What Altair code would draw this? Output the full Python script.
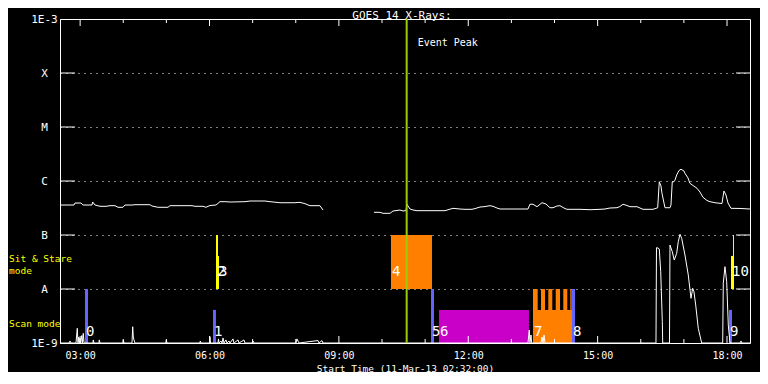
import json
import altair as alt
import pandas as pd

MONO = "DejaVu Sans Mono"
W, H = 690, 324

# ---- axes ----
x_domain = [2.5333, 18.5333]          # 02:32 .. 18:32 (hours of 11-Mar-13)
y_domain = [1e-9, 1e-3]
x_tick_hours = [3, 6, 9, 12, 15, 18]
x_tick_labels = ["03:00", "06:00", "09:00", "12:00", "15:00", "18:00"]
x_minor_hours = [4, 5, 7, 8, 10, 11, 13, 14, 16, 17]
y_tick_values = [1e-9, 1e-8, 1e-7, 1e-6, 1e-5, 1e-4, 1e-3]
y_tick_labels = ["1E-9", "A", "B", "C", "M", "X", "1E-3"]
y_inner_ticks = [1e-8, 1e-7, 1e-6, 1e-5, 1e-4]

# ---- GOES long channel (1-8 A), two segments (data gap) ----
long1_t = [2.533, 2.858, 2.881, 3.020, 3.067, 3.275, 3.291, 3.345, 3.461, 3.600, 3.693, 3.808,
           3.878, 3.994, 4.040, 4.203, 4.272, 4.620, 4.666, 4.805, 5.037, 5.084, 5.594, 5.663,
           5.849, 5.918, 6.011, 6.150, 6.243, 6.359, 6.475, 6.823, 6.939, 7.287, 7.402, 7.634,
           7.982, 8.098, 8.214, 8.330, 8.562, 8.632]
long1_f = [3.59e-7, 3.59e-7, 3.91e-7, 3.91e-7, 3.59e-7, 3.59e-7, 4.08e-7, 3.59e-7, 3.40e-7, 3.40e-7,
           3.49e-7, 3.49e-7, 3.26e-7, 3.26e-7, 3.59e-7, 3.59e-7, 3.64e-7, 3.64e-7, 3.44e-7, 3.26e-7,
           3.26e-7, 3.49e-7, 3.49e-7, 3.40e-7, 3.40e-7, 3.26e-7, 3.52e-7, 3.59e-7, 4.14e-7, 4.14e-7,
           4.08e-7, 4.14e-7, 4.26e-7, 4.26e-7, 4.14e-7, 3.96e-7, 3.96e-7, 4.03e-7, 3.80e-7, 3.49e-7,
           3.49e-7, 2.90e-7]
long2_t = [9.814, 9.953, 10.023, 10.185, 10.255, 10.417, 10.487, 10.556, 10.579, 10.603, 10.649,
           10.719, 10.811, 11.460, 11.646, 11.808, 11.924, 12.087, 12.179, 12.272, 12.365, 12.504,
           12.573, 12.666, 12.736, 13.199, 13.385, 13.431, 13.501, 13.594, 13.710, 13.802, 13.895,
           13.965, 14.057, 14.127, 14.220, 14.289, 14.591, 14.823, 15.055, 15.171, 15.286, 15.449,
           15.518, 15.588, 15.681, 15.750, 15.913, 16.052, 16.284, 16.393, 16.430, 16.469, 16.492,
           16.539, 16.562, 16.678, 16.701, 16.731, 16.770, 16.794, 16.833, 16.886, 16.933, 17.002,
           17.025, 17.095, 17.141, 17.211, 17.304, 17.373, 17.443, 17.536, 17.605, 17.721, 17.837,
           17.884, 17.907, 17.930, 17.976, 18.023, 18.092, 18.301, 18.533]
long2_f = [2.63e-7, 2.63e-7, 2.52e-7, 2.52e-7, 2.78e-7, 2.90e-7, 2.78e-7, 2.84e-7, 3.71e-7, 3.44e-7,
           3.03e-7, 2.90e-7, 2.82e-7, 2.82e-7, 3.12e-7, 3.03e-7, 2.99e-7, 2.99e-7, 3.12e-7, 3.30e-7,
           3.34e-7, 3.49e-7, 3.40e-7, 3.16e-7, 3.03e-7, 3.03e-7, 3.03e-7, 3.71e-7, 3.71e-7, 3.34e-7,
           3.96e-7, 3.75e-7, 3.20e-7, 3.20e-7, 3.44e-7, 3.49e-7, 3.16e-7, 2.99e-7, 2.99e-7, 2.94e-7,
           2.99e-7, 3.03e-7, 3.16e-7, 3.20e-7, 3.37e-7, 3.71e-7, 3.52e-7, 3.34e-7, 3.34e-7, 2.99e-7,
           2.99e-7, 3.20e-7, 9.7e-7, 8.08e-7, 5.92e-7, 3.91e-7, 3.20e-7, 3.20e-7, 3.59e-7, 9.7e-7,
           9.7e-7, 1.04e-6, 1.29e-6, 1.56e-6, 1.65e-6, 1.53e-6, 1.39e-6, 1.14e-6, 9.06e-7, 8.26e-7,
           7.33e-7, 6.25e-7, 4.99e-7, 4.35e-7, 4.14e-7, 3.96e-7, 3.86e-7, 3.83e-7, 5.06e-7, 6.53e-7,
           5.51e-7, 3.91e-7, 3.12e-7, 3.10e-7, 3.03e-7]

# ---- GOES short channel (0.5-4 A) ----
short_t = [2.533, 2.742, 2.765, 2.788, 2.904, 2.934, 2.951, 2.967, 2.981, 2.997, 3.009, 3.036,
           3.050, 3.073, 3.090, 3.298, 3.305, 3.321, 3.437, 3.444, 3.461, 3.994, 4.001, 4.017,
           4.203, 4.219, 4.233, 4.249, 4.272, 4.991, 4.998, 5.014, 5.779, 5.786, 5.802, 6.000,
           6.011, 6.023, 6.197, 6.208, 6.220, 6.266, 6.290, 6.313, 6.336, 6.382, 6.405, 6.452,
           6.475, 6.545, 6.568, 6.661, 6.684, 6.800, 6.823, 6.985, 7.008, 7.032, 8.005, 8.028,
           8.075, 8.516, 8.539, 8.608, 8.632, 13.385, 13.415, 13.431, 13.455, 13.471, 13.687,
           13.710, 13.733, 13.757, 13.780, 16.330, 16.353, 16.365, 16.400, 16.430, 16.463, 16.500,
           16.509, 16.666, 16.678, 16.731, 16.777, 16.833, 16.870, 16.910, 16.949, 17.025, 17.102,
           17.165, 17.204, 17.234, 17.274, 17.334, 17.413, 17.900, 17.914, 17.953, 17.993, 18.030,
           18.069, 18.301, 18.324, 18.347, 18.533]
short_f = [1e-9, 1e-9, 1.09e-9, 1e-9, 1e-9, 1.87e-9, 1e-9, 1.29e-9, 1e-9, 1.24e-9, 1e-9, 1.37e-9,
           1e-9, 1.51e-9, 1e-9, 1e-9, 1.14e-9, 1e-9, 1e-9, 1.14e-9, 1e-9, 1e-9, 1.14e-9, 1e-9,
           1e-9, 2.0e-9, 1.29e-9, 1.14e-9, 1e-9, 1e-9, 1.14e-9, 1e-9, 1e-9, 1.09e-9, 1e-9, 1e-9,
           1.31e-9, 1e-9, 1e-9, 1.19e-9, 1e-9, 1.09e-9, 1e-9, 1.24e-9, 1e-9, 1.14e-9, 1e-9, 1.09e-9,
           1e-9, 1.19e-9, 1e-9, 1.14e-9, 1e-9, 1.14e-9, 1e-9, 1e-9, 1.09e-9, 1e-9, 1e-9, 1.19e-9,
           1e-9, 1.11e-9, 1e-9, 1.11e-9, 1e-9, 1e-9, 1.74e-9, 1e-9, 1.41e-9, 1e-9, 1e-9,
           1.29e-9, 1e-9, 1.41e-9, 1e-9, 1e-9, 1e-9, 5.82e-8, 5.74e-8, 5.5e-8, 2.09e-8, 2.48e-9,
           1e-9, 1e-9, 6.53e-8, 4.91e-8, 3.44e-8, 4.58e-8, 7.52e-8, 1.03e-7, 8.69e-8, 4.26e-8, 1.82e-8,
           6.73e-9, 1.03e-8, 8.9e-9, 5.06e-9, 1.87e-9, 1e-9, 1e-9, 1.28e-8, 2.59e-8, 1.36e-8, 2.15e-9,
           1e-9, 1e-9, 1.09e-9, 1e-9, 1e-9]

# ---- observation blocks (start/end hour, low/high flux, kind) ----
bar_t0 = [3.113, 6.081, 6.150, 6.197, 10.208, 11.136, 11.321, 13.501,
          13.501, 13.687, 13.856, 14.028, 14.204, 14.366, 14.405, 18.046, 18.092, 18.139]
bar_t1 = [3.182, 6.150, 6.197, 6.220, 11.159, 11.206, 13.408, 14.405,
          13.610, 13.780, 13.949, 14.127, 14.297, 14.398, 14.475, 18.116, 18.162, 18.162]
bar_f0 = [1e-9, 1e-9, 1e-8, 1e-8, 1e-8, 1e-9, 1e-9, 1e-9,
          1e-9, 1e-9, 1e-9, 1e-9, 1e-9, 1e-9, 1e-9, 1e-9, 1e-8, 4.1e-8]
bar_f1 = [1e-8, 4.1e-9, 1e-7, 4.1e-8, 1e-7, 1e-8, 4.1e-9, 4.1e-9,
          1e-8, 1e-8, 1e-8, 1e-8, 1e-8, 1e-8, 1e-8, 4.1e-9, 4.1e-8, 1e-7]
bar_kind = ["scan", "scan", "sit", "sit", "raster", "scan", "large", "raster",
            "raster", "raster", "raster", "raster", "raster", "raster", "scan", "scan", "sit", "sit"]
kinds = ["scan", "sit", "raster", "large"]
kind_colors = ["#6464ff", "#ffff00", "#ff8000", "#c800c8"]

label_text = ["0", "1", "2", "3", "4", "5", "6", "7", "8", "9", "10"]
label_t = [3.113, 6.081, 6.150, 6.197, 10.208, 11.136, 11.321, 13.501, 14.405, 18.046, 18.092]
label_f = [1.6e-9, 1.6e-9, 2.07e-8, 2.07e-8, 2.07e-8, 1.6e-9, 1.6e-9, 1.6e-9, 1.6e-9, 1.6e-9, 2.07e-8]

side_text = ["Sit & Stare", "\u00a0mode", "Scan mode"]
side_f = [3.59e-8, 2.18e-8, 2.25e-9]

event_t = 10.572
event_text = "Event Peak"

# ---- tables ----
long_df = pd.DataFrame({
    "t": long1_t + long2_t,
    "f": long1_f + long2_f,
    "seg": ["a"] * len(long1_t) + ["b"] * len(long2_t),
    "i": list(range(len(long1_t) + len(long2_t))),
})
short_df = pd.DataFrame({"t": short_t, "f": short_f, "i": list(range(len(short_t)))})
bars_df = pd.DataFrame({"t": bar_t0, "t1": bar_t1, "f": bar_f0, "f1": bar_f1, "kind": bar_kind})
labels_df = pd.DataFrame({"t": label_t, "f": label_f, "s": label_text})
side_df = pd.DataFrame({"f": side_f, "s": side_text})
event_df = pd.DataFrame({"t": [event_t], "s": [event_text]})
xmaj_df = pd.DataFrame({"t": x_tick_hours})
xmin_df = pd.DataFrame({"t": x_minor_hours})
yin_df = pd.DataFrame({"f": y_inner_ticks})

xs = alt.Scale(domain=x_domain, nice=False, zero=False)
ys = alt.Scale(type="log", domain=y_domain, nice=False)

x_axis = alt.Axis(
    values=x_tick_hours,
    labelExpr=f"{json.dumps(x_tick_labels)}[indexof({json.dumps(x_tick_hours)}, datum.value)]",
    title="Start Time (11-Mar-13 02:32:00)",
    ticks=False, tickSize=0, domain=False, grid=False,
    labelColor="white", labelFont=MONO, labelFontSize=10, labelPadding=7,
    labelOverlap=False, labelFlush=False,
    titleColor="white", titleFont=MONO, titleFontSize=9.5, titleFontWeight="normal",
    titleY=25, titleBaseline="middle",
)
y_axis = alt.Axis(
    values=y_tick_values,
    labelExpr=f"{json.dumps(y_tick_labels)}[round(log(datum.value)/LN10)+9]",
    title=None,
    ticks=False, tickSize=0, domain=False,
    grid=True, gridColor="white", gridDash=[1, 5], gridOpacity=1, gridWidth=1,
    labelColor="white", labelFont=MONO, labelFontSize=11, labelAlign="center",
    labelPadding=16, labelOverlap=False, labelFlush=False,
)

X = lambda f: alt.X(f, scale=xs, axis=x_axis)
Y = lambda f: alt.Y(f, scale=ys, axis=y_axis)

bars = alt.Chart(bars_df).mark_rect().encode(
    x=X("t:Q"), x2="t1:Q", y=Y("f:Q"), y2="f1:Q",
    color=alt.Color("kind:N", scale=alt.Scale(domain=kinds, range=kind_colors), legend=None),
)
short_line = alt.Chart(short_df).mark_line(color="white", strokeWidth=1).encode(
    x=X("t:Q"), y=Y("f:Q"), order="i:Q")
long_line = alt.Chart(long_df).mark_line(color="white", strokeWidth=1).encode(
    x=X("t:Q"), y=Y("f:Q"), detail="seg:N", order="i:Q")
event_rule = alt.Chart(event_df).mark_rule(color="#9acd00", strokeWidth=2).encode(x=X("t:Q"))
event_label = alt.Chart(event_df).mark_text(
    align="left", baseline="middle", dx=11, color="white", font=MONO, fontSize=10
).encode(x=X("t:Q"), y=alt.value(24), text="s:N")

tick_style = dict(color="white", strokeWidth=1)
bot_major = alt.Chart(xmaj_df).mark_rule(**tick_style).encode(x=X("t:Q"), y=alt.value(H), y2=alt.value(H - 7))
bot_minor = alt.Chart(xmin_df).mark_rule(**tick_style).encode(x=X("t:Q"), y=alt.value(H), y2=alt.value(H - 4))
top_major = alt.Chart(xmaj_df).mark_rule(**tick_style).encode(x=X("t:Q"), y=alt.value(0), y2=alt.value(7))
top_minor = alt.Chart(xmin_df).mark_rule(**tick_style).encode(x=X("t:Q"), y=alt.value(0), y2=alt.value(4))
left_ticks = alt.Chart(yin_df).mark_rule(**tick_style).encode(y=Y("f:Q"), x=alt.value(0), x2=alt.value(15))
right_ticks = alt.Chart(yin_df).mark_rule(**tick_style).encode(y=Y("f:Q"), x=alt.value(W - 14), x2=alt.value(W))

bar_labels = alt.Chart(labels_df).mark_text(
    align="left", baseline="middle", dx=1, color="white", font=MONO, fontSize=14
).encode(x=X("t:Q"), y=Y("f:Q"), text="s:N")
side_labels = alt.Chart(side_df).mark_text(
    align="left", baseline="middle", color="#ffff00", font=MONO, fontSize=9.5
).encode(x=alt.value(-51), y=Y("f:Q"), text="s:N")

chart = alt.layer(
    bars, short_line, long_line, event_rule,
    bot_major, bot_minor, top_major, top_minor, left_ticks, right_ticks,
    bar_labels, event_label, side_labels,
).properties(
    width=W, height=H,
    title=alt.TitleParams("GOES 14 X-Rays:", color="white", font=MONO, fontSize=11,
                          fontWeight="normal", anchor="middle", baseline="middle",
                          offset=2, dx=-3, dy=16),
    background="black",
    padding={"left": 52, "top": 11, "right": 10, "bottom": 29},
    autosize=alt.AutoSizeParams(type="none"),
).configure_view(stroke="white", strokeWidth=1)

chart.save("out.html", embed_options={"renderer": "svg", "actions": False})
